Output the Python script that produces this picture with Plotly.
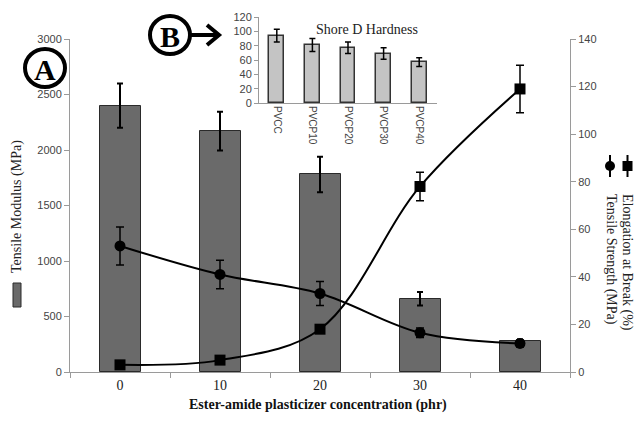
import plotly.graph_objects as go

conc = [0, 10, 20, 30, 40]
modulus = [2400, 2170, 1780, 660, 280]
modulus_err = [200, 175, 160, 60, 15]
strength = [53, 41, 33, 16.5, 12]
strength_err = [8, 6, 5, 2, 1.5]
elong = [3, 5, 18, 78, 119]
elong_err = [1, 1, 1.5, 6, 10]
hard_cats = ["PVCC", "PVCP10", "PVCP20", "PVCP30", "PVCP40"]
hardness = [94, 81, 77, 69, 57]
hard_err = [9, 9, 8, 8, 6]

W, H = 634, 421
ML, MR, MT, MB = 70, 64, 10, 49
PW, PH = W - ML - MR, H - MT - MB


def fx(x):
    return (x - ML) / PW


def fy(y):
    return (H - MB - y) / PH


fig = go.Figure()

fig.add_trace(go.Bar(
    x=conc, y=modulus, width=4.1,
    marker=dict(color="#6a6a6a", line=dict(color="#2a2a2a", width=1)),
    error_y=dict(type="data", array=modulus_err, color="black", thickness=2, width=3),
    xaxis="x", yaxis="y", showlegend=False))

fig.add_trace(go.Scatter(
    x=conc, y=strength, mode="lines+markers",
    line=dict(color="black", width=2, shape="spline", smoothing=1),
    marker=dict(symbol="circle", size=11, color="black"),
    error_y=dict(type="data", array=strength_err, color="black", thickness=1.5, width=4),
    xaxis="x", yaxis="y2", showlegend=False))

fig.add_trace(go.Scatter(
    x=conc, y=elong, mode="lines+markers",
    line=dict(color="black", width=2, shape="spline", smoothing=1),
    marker=dict(symbol="square", size=11, color="black"),
    error_y=dict(type="data", array=elong_err, color="black", thickness=1.5, width=4),
    xaxis="x", yaxis="y2", showlegend=False))

fig.add_trace(go.Bar(
    x=hard_cats, y=hardness, width=0.42,
    marker=dict(color="#c4c4c4", line=dict(color="#333333", width=1.5)),
    error_y=dict(type="data", array=hard_err, color="black", thickness=1.5, width=3),
    xaxis="x3", yaxis="y3", showlegend=False))

ydom_main = [0, fy(39)]
axis_gray = "#9a9a9a"
tickfont = dict(family="Liberation Sans, Arial, sans-serif", size=11, color="#444444")
serif = "Liberation Serif, Times New Roman, serif"

fig.update_layout(
    width=W, height=H, autosize=False, showlegend=False,
    margin=dict(l=ML, r=MR, t=MT, b=MB, pad=0, autoexpand=False),
    paper_bgcolor="white", plot_bgcolor="rgba(0,0,0,0)",
    bargap=0,
    xaxis=dict(domain=[0, 1], range=[-5, 45], tickvals=conc, ticktext=[str(c) for c in conc],
               ticks="", showgrid=False, zeroline=False, showline=True, linecolor=axis_gray,
               tickfont=dict(family=serif, size=14, color="#222"), automargin=False,
               minor=dict(ticks="outside", tickmode="linear", tick0=-5, dtick=10, ticklen=5,
                          tickcolor=axis_gray, showgrid=False),
               anchor="y"),
    yaxis=dict(domain=ydom_main, range=[0, 3000], dtick=500, showgrid=False, zeroline=False,
               showline=True, linecolor=axis_gray, ticks="outside", ticklen=5, tickcolor=axis_gray,
               tickfont=tickfont, anchor="x", automargin=False),
    yaxis2=dict(domain=ydom_main, range=[0, 140], dtick=20, overlaying="y", side="right",
                showgrid=False, zeroline=False, showline=True, linecolor=axis_gray,
                ticks="outside", ticklen=5, tickcolor=axis_gray, tickfont=tickfont, anchor="x",
                automargin=False),
    xaxis3=dict(domain=[fx(259), fx(437)], anchor="y3", showgrid=False, zeroline=False,
                showline=True, linecolor=axis_gray, ticks="", tickangle=90, automargin=False,
                tickfont=dict(family="Liberation Sans, Arial, sans-serif", size=10, color="#444"),
                minor=dict(ticks="outside", ticklen=4, tickcolor=axis_gray),
                range=[-0.5, 4.5]),
    yaxis3=dict(domain=[fy(103), fy(17)], anchor="x3", range=[0, 120], dtick=20,
                showgrid=False, zeroline=False, showline=True, linecolor=axis_gray,
                ticks="outside", ticklen=4, tickcolor=axis_gray, automargin=False,
                tickfont=dict(family="Liberation Sans, Arial, sans-serif", size=11, color="#444")),
)


def ann(text, x, y, size, angle=0, color="#222"):
    return dict(text=text, x=fx(x), y=fy(y), xref="paper", yref="paper", showarrow=False,
                xanchor="center", yanchor="middle", textangle=angle,
                font=dict(family=serif, size=size, color=color))


annotations = [
    ann("<b>Ester-amide plasticizer concentration (phr)</b>", 318, 405, 14, color="#111"),
    ann("Tensile Modulus (MPa)", 17, 207, 14, angle=-90),
    ann("Elongation at Break (%)", 627, 262, 14, angle=90),
    ann("Tensile Strength (MPa)", 611, 259, 14, angle=90),
    ann("Shore D Hardness", 367, 29, 14),
    ann("<b>A</b>", 45, 69, 30, color="black"),
    ann("<b>B</b>", 170, 36, 30, color="black"),
]
fig.update_layout(annotations=annotations)

shapes = []
# circles around A and B
for cx, cy in [(45, 68), (170, 35)]:
    shapes.append(dict(type="circle", xref="paper", yref="paper",
                       x0=fx(cx - 20), x1=fx(cx + 20), y0=fy(cy + 19), y1=fy(cy - 19),
                       line=dict(color="black", width=4)))
# arrow from B
shapes.append(dict(type="line", xref="paper", yref="paper", x0=fx(190), x1=fx(218),
                   y0=fy(35), y1=fy(35), line=dict(color="black", width=4)))
shapes.append(dict(type="path", xref="paper", yref="paper",
                   path=f"M {fx(207)} {fy(25)} L {fx(219)} {fy(35)} L {fx(207)} {fy(45)}",
                   line=dict(color="black", width=4)))
# legend symbol for Tensile Modulus
shapes.append(dict(type="rect", xref="paper", yref="paper", x0=fx(13), x1=fx(21),
                   y0=fy(307), y1=fy(283), fillcolor="#6a6a6a", line=dict(color="#2a2a2a", width=1)))
# legend symbols on right
for cx, kind in [(627.5, "square"), (610, "circle")]:
    shapes.append(dict(type="line", xref="paper", yref="paper", x0=fx(cx), x1=fx(cx),
                       y0=fy(177), y1=fy(155), line=dict(color="black", width=2)))
    if kind == "square":
        shapes.append(dict(type="rect", xref="paper", yref="paper", x0=fx(cx - 5), x1=fx(cx + 5),
                           y0=fy(171), y1=fy(161), fillcolor="black", line=dict(color="black", width=0)))
    else:
        shapes.append(dict(type="circle", xref="paper", yref="paper", x0=fx(cx - 5), x1=fx(cx + 5),
                           y0=fy(171), y1=fy(161), fillcolor="black", line=dict(color="black", width=0)))
fig.update_layout(shapes=shapes)

fig.write_html("out.html")
